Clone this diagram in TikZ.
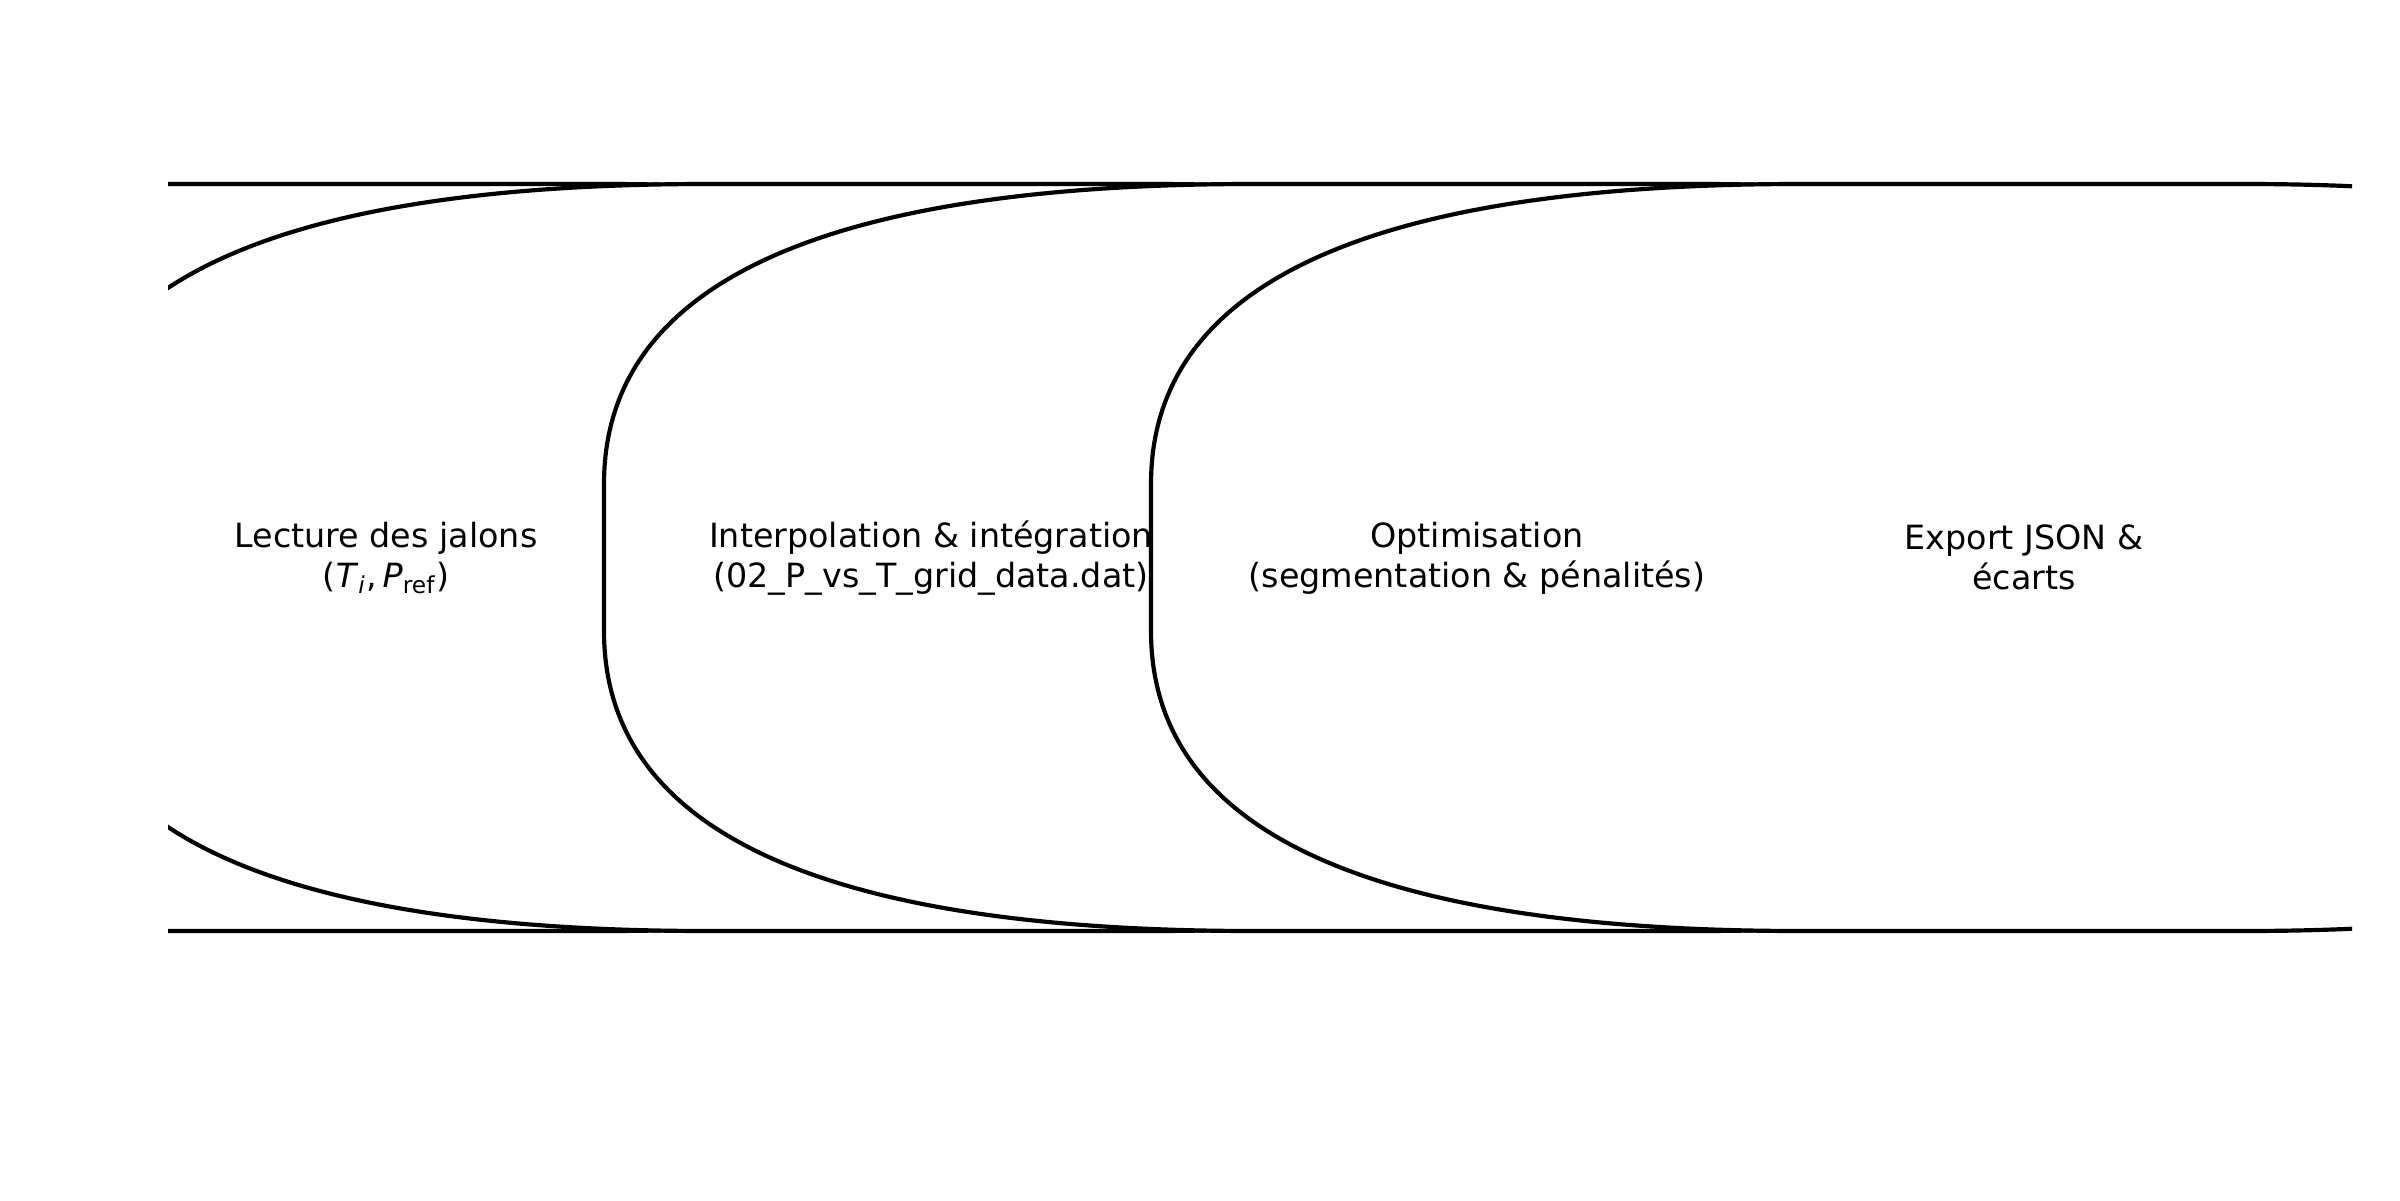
\documentclass[tikz,border=0pt]{standalone}
\usepackage{fontspec}
\setmainfont{DejaVu Sans}
\tikzset{
  stagebox/.style={draw=black, fill=white, line width=1.19pt, line join=round},
  stagelabel/.style={align=center, inner sep=0pt, font=\fontsize{9.49}{11.38}\selectfont},
  stage/.pic={
    \path[stagebox] (-2.23,2.69) -- (2.20,2.69)
      .. controls (6.533,2.69) and (8.70,3.69) .. (8.70,5.69)
      -- (8.70,7.16)
      .. controls (8.70,9.16) and (6.533,10.16) .. (2.20,10.16)
      -- (-2.23,10.16)
      .. controls (-6.563,10.16) and (-8.73,9.16) .. (-8.73,7.16)
      -- (-8.73,5.69)
      .. controls (-8.73,3.69) and (-6.563,2.69) .. cycle;
  }
}
\begin{document}
\begin{tikzpicture}
\useasboundingbox (0,0) rectangle (24,12);
\begin{scope}
  \clip (1.68,0) rectangle (23.52,12);
  \pic at (3.84,0) {stage};
  \pic at (9.31,0) {stage};
  \pic at (14.77,0) {stage};
  \pic at (20.24,0) {stage};
  \node[stagelabel] (s1) at (3.86,6.42) {Lecture des jalons\\(\textit{T}\textsubscript{\textit{i}},\,\textit{P}\textsubscript{ref})};
  \node[stagelabel] (s2) at (9.31,6.42) {Interpolation \& intégration\\(02\_P\_vs\_T\_grid\_data.dat)};
  \node[stagelabel] (s3) at (14.77,6.42) {Optimisation\\(segmentation \& pénalités)};
  \node[stagelabel] (s4) at (20.24,6.43) {Export JSON \&\\écarts};
\end{scope}
\end{tikzpicture}
\end{document}
